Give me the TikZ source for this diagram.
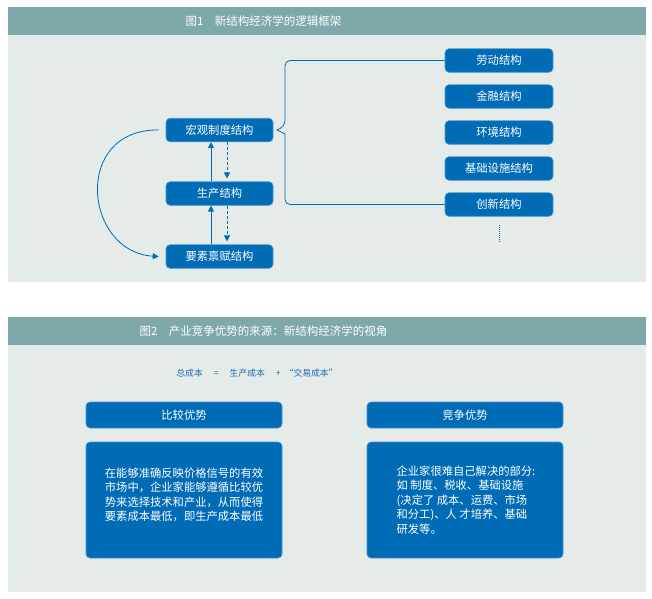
\documentclass[tikz,border=0pt]{standalone}
\usepackage{fontspec}
\setmainfont{Noto Sans CJK SC}
\usetikzlibrary{arrows.meta}
\definecolor{barcol}{HTML}{7EA8AA}
\definecolor{bgcol}{HTML}{E5EBE8}
\definecolor{boxblue}{HTML}{006CB6}
\definecolor{boxedge}{HTML}{4A94CC}
\definecolor{formcol}{HTML}{1F6DB2}
\begin{document}
\begin{tikzpicture}[x=1pt,y=-1pt,
  bar/.style={fill=barcol, draw=none, inner sep=0pt, anchor=north west},
  panel/.style={fill=bgcol, draw=none, inner sep=0pt, anchor=north west},
  titletext/.style={text=white, font=\fontsize{11.5}{13}\selectfont, inner sep=0pt},
  bbox/.style={fill=boxblue, draw=boxedge, line width=0.6pt, rounded corners=4pt,
    minimum width=107pt, minimum height=23.5pt, inner sep=0pt, text=white,
    font=\fontsize{11.3}{13}\selectfont},
  bigbox/.style={fill=boxblue, draw=boxedge, line width=0.6pt, rounded corners=4pt,
    minimum width=196pt, inner sep=0pt},
  bodytext/.style={text=white, align=left, inner sep=0pt,
    font=\fontsize{11.3}{14.4}\selectfont},
  conn/.style={draw=boxblue, line width=0.8pt},
  tipend/.style={-{Triangle[length=6pt,width=6pt]}}
]
\useasboundingbox (0,0) rectangle (652,598);
\fill[white] (0,0) rectangle (652,598);

% ---------- panel 1 ----------
\node[bar, minimum width=638pt, minimum height=28pt] (bar1) at (8,7) {};
\node[panel, minimum width=638pt, minimum height=247pt] (bg1) at (8,35) {};
\node[titletext] (title1) at (263.5,21) {图1\quad 新结构经济学的逻辑框架};

\node[bbox] (macro) at (219.5,130) {宏观制度结构};
\node[bbox] (prod) at (219.5,193.5) {生产结构};
\node[bbox] (endow) at (219.5,256.5) {要素禀赋结构};

\node[bbox, minimum width=108pt] (lab) at (499,60.5) {劳动结构};
\node[bbox, minimum width=108pt] (fin) at (499,96.5) {金融结构};
\node[bbox, minimum width=108pt] (env) at (499,132.5) {环境结构};
\node[bbox, minimum width=108pt] (infra) at (499,168.5) {基础设施结构};
\node[bbox, minimum width=108pt] (inn) at (499,204.5) {创新结构};

\draw[conn, tipend] ([xshift=-8.5pt]prod.north) -- ([xshift=-8.5pt]macro.south);
\draw[conn, tipend, dashed, dash pattern=on 3pt off 2pt, shorten >=3pt] ([xshift=7.5pt]macro.south) -- ([xshift=7.5pt]prod.north);
\draw[conn, tipend] ([xshift=-8.5pt]endow.north) -- ([xshift=-8.5pt]prod.south);
\draw[conn, tipend, dashed, dash pattern=on 3pt off 2pt, shorten >=3pt] ([xshift=7.5pt]prod.south) -- ([xshift=7.5pt]endow.north);

\draw[conn, tipend] ([xshift=-7pt]macro.west) .. controls (72,129) and (84,252) .. ([xshift=-7pt]endow.west);

\draw[conn] (lab.west) [rounded corners=5pt] -- (285,60.5) -- (285,126) [sharp corners] -- (277,130) -- (285,134) [rounded corners=5pt] -- (285,204.5) -- (inn.west);

\coordinate (dtop) at (499,225);
\coordinate (dbot) at (499,242);
\draw[conn, line width=0.9pt, dash pattern=on 1pt off 1pt] (dtop) -- (dbot);

% ---------- panel 2 ----------
\node[bar, minimum width=638pt, minimum height=28pt] (bar2) at (8,317) {};
\node[panel, minimum width=638pt, minimum height=247pt] (bg2) at (8,345) {};
\node[titletext] (title2) at (263.5,331) {图2\quad 产业竞争优势的来源：新结构经济学的视角};

\node[text=formcol, inner sep=0pt, font=\fontsize{8.8}{10}\selectfont] (formula) at (257,373)
  {总成本\hspace{11pt}=\hspace{11pt}生产成本\hspace{11pt}+\hspace{4pt}“交易成本”};

\node[bbox, minimum width=196pt, minimum height=26pt] (compadv) at (184,415) {比较优势};
\node[bbox, minimum width=196pt, minimum height=26pt] (compet) at (465,415) {竞争优势};

\node[bigbox, minimum height=116pt] (lbox) at (184,500) {};
\node[bigbox, minimum height=116pt] (rbox) at (465,500) {};

\node[bodytext] (ltext) at (184,495) {在能够准确反映价格信号的有效\\市场中，企业家能够遵循比较优\\势来选择技术和产业，从而使得\\要素成本最低，即生产成本最低};
\node[bodytext] (rtext) at (466,500) {企业家很难自己解决的部分:\\如 制度、税收、基础设施\\(决定了 成本、运费、市场\\和分工)、人 才培养、基础\\研发等。};
\end{tikzpicture}
\end{document}
